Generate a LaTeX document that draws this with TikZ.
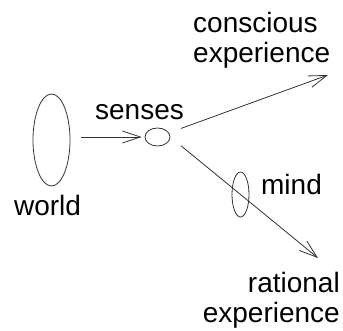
\documentclass[tikz,border=0pt]{standalone}
\usepackage{fontspec}
\setmainfont{Liberation Sans}
\usetikzlibrary{shapes.geometric,arrows.meta,calc}
\begin{document}
\begin{tikzpicture}[x=1pt,y=-1pt,
  oval/.style={draw=black!80,line width=0.8pt,ellipse,inner sep=0pt},
  lbl/.style={inner sep=0pt,font=\fontsize{28}{30.5}\selectfont},
  arr/.style={draw=black!80,line width=0.8pt,-{Straight Barb[length=18pt,width=12pt]}}]
\useasboundingbox (0,0) rectangle (343,331);
\node[oval,minimum width=37pt,minimum height=92pt] (world) at (51.5,140) {};
\node[oval,minimum width=25pt,minimum height=18pt] (senses) at (157.5,137) {};
\node[oval,minimum width=17pt,minimum height=45pt] (mind) at (240.5,194.5) {};
\coordinate (cetip) at (328,75);
\coordinate (retip) at (318,258);
\node[lbl,anchor=base] (worldlbl) at (47.5,216) {world};
\node[lbl,anchor=base] (senseslbl) at (139.5,120) {senses};
\node[lbl,anchor=base] (mindlbl) at (291.5,195) {mind};
\node[lbl,anchor=base west,align=left] (ce) at (193,63) {conscious\\experience};
\node[lbl,anchor=base east,align=right] (re) at (340,323) {rational\\experience};
\draw[arr] ([xshift=11pt]world.east |- senses) -- ([xshift=-3pt]senses.west);
\draw[arr] ($(senses)!25pt!(cetip)$) -- (cetip);
\draw[arr] ($(mind)!-77pt!(retip)$) -- (retip);
\end{tikzpicture}
\end{document}
